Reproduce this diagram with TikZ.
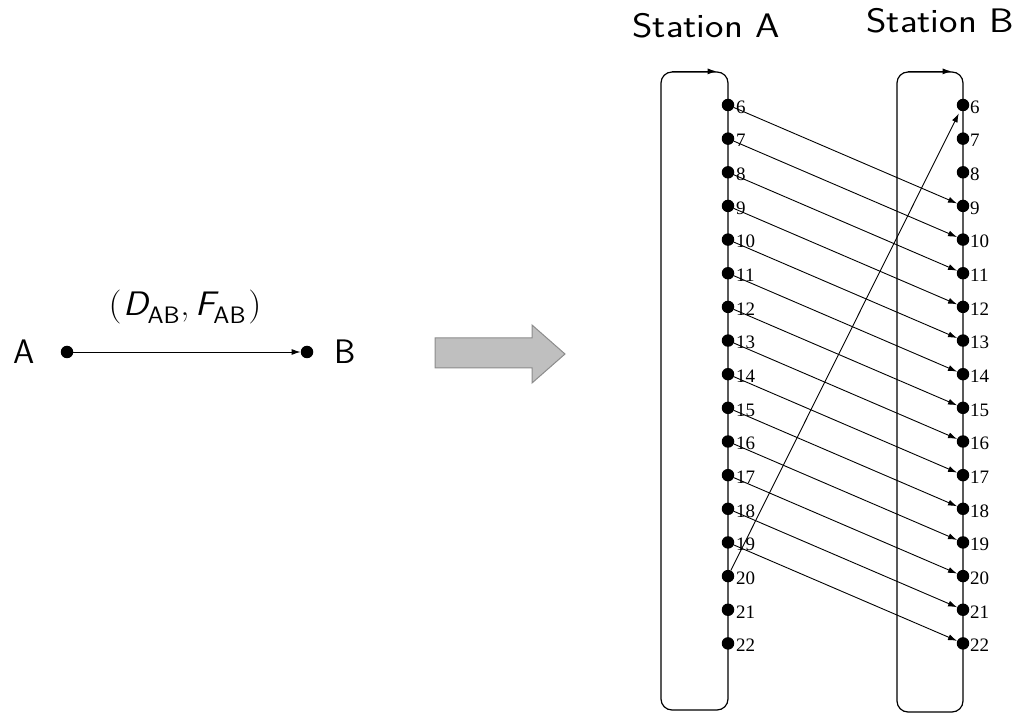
\documentclass[tikz,border=0pt]{standalone}
\usepackage{amsmath}
\usepackage{fontspec}
\newfontfamily\numfont{Liberation Serif}
\usetikzlibrary{arrows.meta}
\begin{document}
\begin{tikzpicture}[x=1pt,y=-1pt,
  dot/.style={circle, fill=black, inner sep=0pt, minimum size=12.5pt},
  numlbl/.style={anchor=west, inner sep=0pt, font=\numfont\fontsize{19}{19}\selectfont},
  conn/.style={-{Latex[length=9pt,width=6pt]}, line width=0.9pt},
  station/.style={draw, line width=1.2pt, rounded corners=11pt, inner sep=0pt},
  bigsans/.style={inner sep=0pt, font=\sffamily\fontsize{34}{34}\selectfont},
  blockarrow/.style={draw=black!45, fill=black!25, line width=1pt}
]
\useasboundingbox (0,0) rectangle (1021,719);

% ---- left: A -> B
\node[dot] (A) at (67,352) {};
\node[dot] (B) at (307,352) {};
\draw[conn] (A) -- (B);
\node[bigsans] (lA) at (24,352) {A};
\node[bigsans] (lB) at (345,352) {B};
\node[inner sep=0pt, font=\rmfamily\fontsize{34}{34}\selectfont] (lDF) at (185,307)
  {\scalebox{1.08}[1]{(\kern2pt{\sffamily\itshape D}\kern-1pt\textsubscript{\sffamily AB},\kern6pt{\sffamily\itshape F}\kern-2pt\textsubscript{\sffamily AB}\kern2pt)}};

% ---- block arrow
\draw[blockarrow] (435,338) -- (532,338) -- (532,325) -- (565,354) -- (532,383)
  -- (532,368) -- (435,368) -- cycle;

% ---- stations
\node[bigsans] (tA) at (706,26) {\scalebox{1.15}[1]{Station A}};
\node[bigsans] (tB) at (940,21) {\scalebox{1.15}[1]{Station B}};
\node[station, minimum width=67pt, minimum height=638pt] (SA) at (694.5,391) {};
\node[station, minimum width=66pt, minimum height=640pt] (SB) at (930,392) {};
\draw[conn, line width=1pt] (SA.north west) ++(12,0) coordinate (sas) -- ([xshift=-12pt]SA.north east);
\draw[conn, line width=1pt] (SB.north west) ++(12,0) coordinate (sbs) -- ([xshift=-12pt]SB.north east);

\foreach \i in {6,...,22} {
  \pgfmathsetmacro\yy{105+(\i-6)*33.65}
  \node[dot] (a\i) at (728,\yy) {};
  \node[dot] (b\i) at (963,\yy) {};
  \node[numlbl] (la\i) at (736,\yy+2) {\i};
  \node[numlbl] (lb\i) at (970,\yy+2) {\i};
}
\foreach \i in {6,...,19} {
  \pgfmathtruncatemacro\j{\i+3}
  \draw[conn] (a\i) -- (b\j);
}
\draw[conn, shorten >=3pt] (a20) -- (b6);
\end{tikzpicture}
\end{document}
